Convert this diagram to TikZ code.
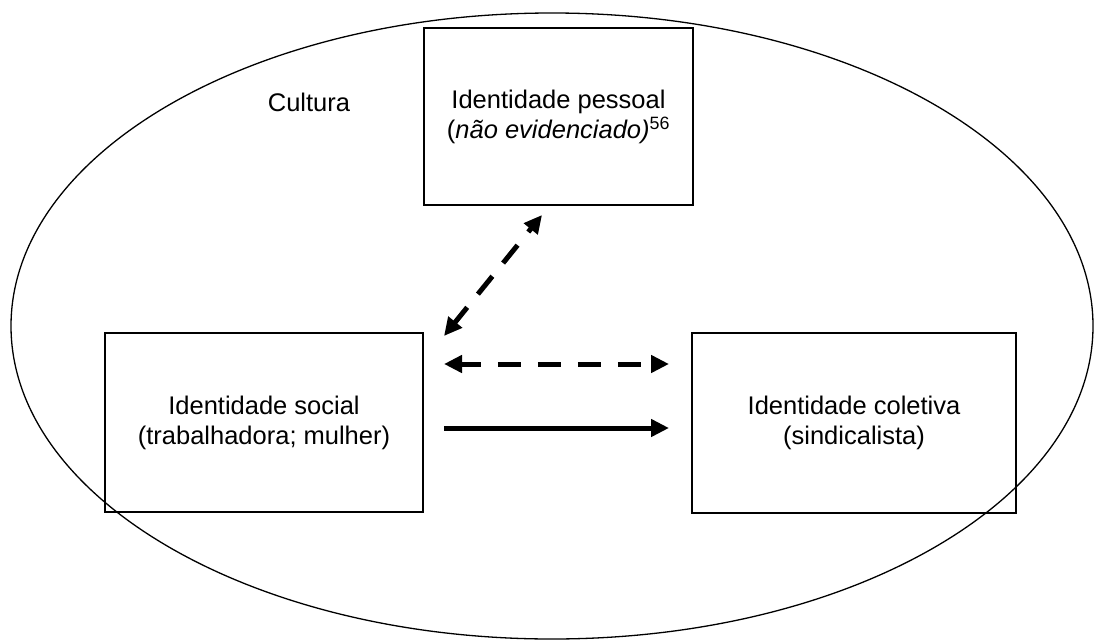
\documentclass[tikz,border=0pt]{standalone}
\usepackage{fontspec}
\setmainfont{Liberation Sans}
\usetikzlibrary{arrows.meta}
\begin{document}
\begin{tikzpicture}[x=1pt,y=-1pt,
  idbox/.style={draw, line width=2.2pt, inner sep=0pt, align=center,
    font=\fontsize{25.5}{30}\selectfont},
  txt/.style={font=\fontsize{25.5}{30}\selectfont},
  link/.style={line width=5pt, -{Triangle[length=18pt,width=17pt]}},
  twoway/.style={line width=5pt, {Triangle[length=18pt,width=17pt]}-{Triangle[length=18pt,width=17pt]},
    dash pattern=on 23pt off 17pt, dash phase=3pt}]
  \useasboundingbox (0,0) rectangle (1095,640);

  % surrounding culture
  \draw[line width=1.3pt] (552,326) ellipse [x radius=541, y radius=313];
  \node[txt, anchor=base] (cult) at (309,111) {Cultura};

  % the three identities
  \node[idbox, minimum width=269pt, minimum height=177pt] (pess) at (558.5,116.5)
    {Identidade pessoal\\(\textit{não evidenciado)}\textsuperscript{56}};
  \node[idbox, minimum width=318pt, minimum height=179pt] (soc) at (264,422.5)
    {Identidade social\\(trabalhadora; mulher)};
  \node[idbox, minimum width=324pt, minimum height=180pt] (col) at (854,423)
    {Identidade coletiva\\(sindicalista)};

  % connector ends
  \coordinate (pessS) at (542,215);
  \coordinate (socNE) at (444,336);
  \coordinate (socE1) at (444,364);
  \coordinate (colW1) at (669,364);
  \coordinate (socE2) at (444,428);
  \coordinate (colW2) at (669,428);

  \draw[twoway] (socNE) -- (pessS);
  \draw[twoway] (socE1) -- (colW1);
  \draw[link] (socE2) -- (colW2);
\end{tikzpicture}
\end{document}
